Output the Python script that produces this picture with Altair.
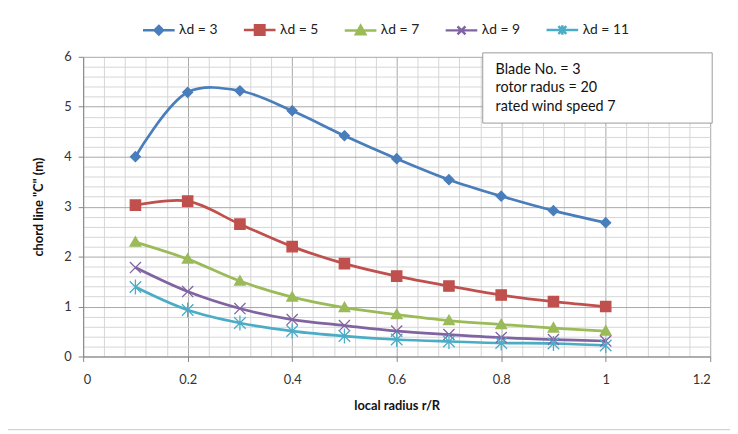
import altair as alt
import pandas as pd

# ---- data ----
r_values = [0.1, 0.2, 0.3, 0.4, 0.5, 0.6, 0.7, 0.8, 0.9, 1.0]
series_names = ["λd = 3", "λd = 5", "λd = 7", "λd = 9", "λd = 11"]
c_ld3 = [4.00, 5.29, 5.32, 4.92, 4.42, 3.96, 3.54, 3.21, 2.92, 2.68]
c_ld5 = [3.03, 3.11, 2.65, 2.20, 1.86, 1.61, 1.41, 1.23, 1.10, 1.00]
c_ld7 = [2.29, 1.95, 1.51, 1.19, 0.98, 0.84, 0.72, 0.64, 0.57, 0.51]
c_ld9 = [1.78, 1.30, 0.96, 0.74, 0.62, 0.51, 0.44, 0.38, 0.34, 0.31]
c_ld11 = [1.39, 0.93, 0.67, 0.51, 0.41, 0.34, 0.30, 0.27, 0.26, 0.22]
x_ticks = [0, 0.2, 0.4, 0.6, 0.8, 1.0, 1.2]
y_ticks = [0, 1, 2, 3, 4, 5, 6]
note_lines = ["Blade No. = 3", "rotor radus = 20", " rated wind speed  7"]
x_title = "local radius  r/R"
y_title = 'chord line "C" (m)'

# ---- styles ----
FONT = "Lato"
colors = ["#4a7ebb", "#c0504d", "#9bbb59", "#8064a2", "#4bacc6"]
marker_paths = [
    "M0,-1L1,0L0,1L-1,0Z",
    "M-1,-1L1,-1L1,1L-1,1Z",
    "M0,-1L1,0.75L-1,0.75Z",
    "M-1,-1L1,1M-1,1L1,-1",
    "M-1,-1L1,1M-1,1L1,-1M0,-1.3L0,1.3",
]
marker_sizes = [100, 135, 125, 100, 100]
marker_stroke_opacity = [1, 1, 1, 0.6, 0.6]
legend_paths = [
    "M-1,0L1,0M0,-0.27L0.27,0L0,0.27L-0.27,0Z",
    "M-1,0L1,0M-0.3,-0.3L0.3,-0.3L0.3,0.3L-0.3,0.3Z",
    "M-1,0L1,0M0,-0.3L0.3,0.24L-0.3,0.24Z",
    "M-1,0L1,0M-0.25,-0.25L0.25,0.25M-0.25,0.25L0.25,-0.25",
    "M-1,0L1,0M-0.25,-0.25L0.25,0.25M-0.25,0.25L0.25,-0.25M0,-0.3L0,0.3",
]

all_c = [c_ld3, c_ld5, c_ld7, c_ld9, c_ld11]
rows = []
for name, vals, path in zip(series_names, all_c, marker_paths):
    for r, c in zip(r_values, vals):
        rows.append({"r": r, "c": c, "series": name, "mpath": path})
df = pd.DataFrame(rows)

W, H = 634, 303
x_minor = [round(i * 0.04, 2) for i in range(31) if i % 5 != 0]
y_minor = [round(i * 0.2, 1) for i in range(31) if i % 5 != 0]

xscale = alt.Scale(domain=[0, 1.2], nice=False, zero=False)
yscale = alt.Scale(domain=[0, 6], nice=False)
color_scale = alt.Scale(domain=series_names, range=colors)
stroke_scale = alt.Scale(domain=series_names, range=colors)

base = alt.Chart(df)

legend_props = dict(
    title=None, orient="none", legendX=59, legendY=-45, direction="horizontal",
    columns=5, columnPadding=21, padding=0, symbolSize=1024, symbolStrokeWidth=2.5,
    symbolOpacity=1, labelFont=FONT, labelFontSize=14, labelColor="#222222", labelOffset=3,
)

legend_layer = base.mark_point(filled=True, opacity=0).encode(
    x=alt.X("r:Q", scale=xscale, axis=None),
    y=alt.Y("c:Q", scale=yscale, axis=None),
    color=alt.Color("series:N", scale=color_scale, legend=alt.Legend(**legend_props)),
    stroke=alt.Stroke("series:N", scale=stroke_scale, legend=alt.Legend(**legend_props)),
    shape=alt.Shape("series:N", scale=alt.Scale(domain=series_names, range=legend_paths),
                    legend=alt.Legend(**legend_props)),
)

grid_minor = base.mark_point(opacity=0).encode(
    x=alt.X("r:Q", scale=xscale, axis=alt.Axis(orient="top", values=x_minor, grid=True,
            gridColor="#d6d6d6", gridWidth=1, labels=False, ticks=False, domain=False, title=None)),
    y=alt.Y("c:Q", scale=yscale, axis=alt.Axis(orient="right", values=y_minor, grid=True,
            gridColor="#d6d6d6", gridWidth=1, labels=False, ticks=False, domain=False, title=None)),
)

lines = base.mark_line(interpolate="catmull-rom", strokeWidth=2.75).encode(
    x=alt.X("r:Q", scale=xscale, axis=alt.Axis(
        orient="bottom", values=x_ticks, format="~g", grid=True, gridColor="#a8a8a8",
        domainColor="#868686", tickColor="#868686", tickSize=5, labelPadding=12,
        labelFontSize=13, labelFont=FONT, labelColor="#333333",
        title=x_title, titleFont=FONT, titleFontSize=13, titleFontWeight="bold",
        titleColor="#111111", titlePadding=14)),
    y=alt.Y("c:Q", scale=yscale, axis=alt.Axis(
        orient="left", values=y_ticks, format="d", grid=True, gridColor="#a8a8a8",
        domainColor="#868686", tickColor="#868686", tickSize=5, labelPadding=7,
        labelFontSize=13, labelFont=FONT, labelColor="#333333",
        title=y_title, titleFont=FONT, titleFontSize=13, titleFontWeight="bold",
        titleColor="#111111", titlePadding=19)),
    color=alt.Color("series:N", scale=color_scale, legend=None),
    detail="series:N",
)

points = base.mark_point(filled=True, opacity=1, strokeWidth=1.3).encode(
    x=alt.X("r:Q", scale=xscale, axis=None),
    y=alt.Y("c:Q", scale=yscale, axis=None),
    color=alt.Color("series:N", scale=color_scale, legend=None),
    stroke=alt.Stroke("series:N", scale=stroke_scale, legend=None),
    shape=alt.Shape("mpath:N", scale=None),
    size=alt.Size("mpath:N", scale=alt.Scale(domain=marker_paths, range=marker_sizes), legend=None),
    strokeOpacity=alt.StrokeOpacity("mpath:N", scale=alt.Scale(domain=marker_paths, range=marker_stroke_opacity),
                                    legend=None),
)

one = pd.DataFrame({"k": [0]})
note_box = alt.Chart(one).mark_rect(fill="white", stroke="#9a9a9a", strokeWidth=1).encode(
    x=alt.value(404), x2=alt.value(636), y=alt.value(-4), y2=alt.value(67))

note_texts = []
for i, line in enumerate(note_lines):
    note_texts.append(
        alt.Chart(pd.DataFrame({"t": [line]})).mark_text(
            align="left", baseline="middle", font=FONT, fontSize=14.5, color="#111111"
        ).encode(text="t:N", x=alt.value(417), y=alt.value(13 + 19 * i))
    )

outer = alt.Chart(one).mark_rect(fill=None, stroke="#c8c8c8", strokeWidth=1).encode(
    x=alt.value(-77), x2=alt.value(700), y=alt.value(-50), y2=alt.value(377))

chart = alt.layer(
    legend_layer, grid_minor, lines, points, note_box, *note_texts, outer
).resolve_axis(x="independent", y="independent").properties(
    width=W, height=H,
    autosize=alt.AutoSizeParams(type="none"),
    padding={"left": 76, "top": 47, "right": 20, "bottom": 76},
).configure_view(stroke=None)

chart.save("out.html", embed_options={"renderer": "svg", "actions": False})
